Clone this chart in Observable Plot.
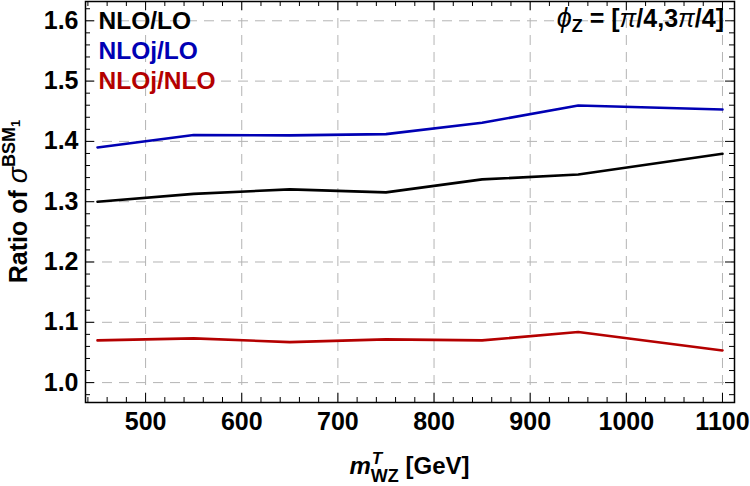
<!DOCTYPE html>
<html>
<head>
<meta charset="utf-8">
<script src="https://cdn.jsdelivr.net/npm/d3@7"></script>
<script src="https://cdn.jsdelivr.net/npm/@observablehq/plot@0.6"></script>
<style>
  html, body { margin: 0; padding: 0; background: #fff; }
  #chart svg { display: block; }
</style>
</head>
<body>
<div id="chart"></div>
<script>
// Transverse mass bins of the WZ system (GeV)
const mass = [450, 550, 650, 750, 850, 950, 1100];

// Cross-section ratios for the BSM_1 operator, phi_Z in [pi/4, 3pi/4]
const nloOverLo   = [1.300, 1.313, 1.3205, 1.3155, 1.337, 1.345, 1.3795];
const nlojOverLo  = [1.390, 1.4105, 1.410, 1.412, 1.431, 1.4595, 1.4528];
const nlojOverNlo = [1.070, 1.0733, 1.0672, 1.0717, 1.070, 1.0839, 1.0533];

const seriesNames  = ["NLO/LO", "NLOj/LO", "NLOj/NLO"];
const seriesColors = ["#000000", "#0000b4", "#b40000"];

// Axis ticks
const xTicks = [500, 600, 700, 800, 900, 1000, 1100];
const yTicks = [1.0, 1.1, 1.2, 1.3, 1.4, 1.5, 1.6];
const xMinor = d3.range(440, 1101, 20).filter(v => v % 100 !== 0);
const yMinor = d3.range(0.98, 1.625, 0.02).map(v => +v.toFixed(2)).filter(v => Math.round(v * 100) % 10 !== 0);

// Long-format table for the line mark
const seriesValues = [nloOverLo, nlojOverLo, nlojOverNlo];
const rows = seriesNames.flatMap((name, i) =>
  mass.map((m, j) => ({series: name, m, ratio: seriesValues[i][j]}))
);

const W = 750, H = 486;
const mt = 1, mb = 84, ml = 85, mr = 16;
const innerW = W - ml - mr, innerH = H - mt - mb;
const FONT = "'Liberation Sans', Arial, Helvetica, sans-serif";

const grid = {stroke: "#b4b4b4", strokeWidth: 1, strokeDasharray: "10,7"};
const tickStyle = {stroke: "#000", strokeWidth: 1};

const svg = Plot.plot({
  width: W,
  height: H,
  marginTop: mt,
  marginBottom: mb,
  marginLeft: ml,
  marginRight: mr,
  style: {fontFamily: FONT, background: "#fff", color: "#000"},
  x: {domain: [437.5, 1112.5]},
  y: {domain: [0.967, 1.632]},
  color: {domain: seriesNames, range: seriesColors},
  marks: [
    // dashed grid at major ticks
    Plot.ruleX(xTicks, grid),
    Plot.ruleY(yTicks, grid),

    // ratio curves
    Plot.line(rows, {x: "m", y: "ratio", z: "series", stroke: "series", strokeWidth: 2.6, curve: "linear"}),

    // inward frame ticks: bottom & top
    Plot.tickX(xTicks, {...tickStyle, insetTop: innerH - 9}),
    Plot.tickX(xTicks, {...tickStyle, insetBottom: innerH - 9}),
    Plot.tickX(xMinor, {...tickStyle, insetTop: innerH - 5}),
    Plot.tickX(xMinor, {...tickStyle, insetBottom: innerH - 5}),
    // inward frame ticks: left & right
    Plot.tickY(yTicks, {...tickStyle, insetRight: innerW - 9}),
    Plot.tickY(yTicks, {...tickStyle, insetLeft: innerW - 9}),
    Plot.tickY(yMinor, {...tickStyle, insetRight: innerW - 5}),
    Plot.tickY(yMinor, {...tickStyle, insetLeft: innerW - 5}),

    // tick labels
    Plot.axisX(xTicks, {tickSize: 0, tickPadding: 10, fontSize: 25, fontWeight: "bold", label: null, tickFormat: d => String(d)}),
    Plot.axisY(yTicks, {tickSize: 0, tickPadding: 7, fontSize: 25, fontWeight: "bold", label: null, tickFormat: d3.format(".1f")}),

    Plot.frame({stroke: "#000", strokeWidth: 1.5}),

    // series legend, top-left inside the frame
    ...seriesNames.map((name, i) =>
      Plot.text([name], {
        text: d => d,
        fill: d => d,
        frameAnchor: "top-left",
        textAnchor: "start",
        lineAnchor: "bottom",
        dx: 13,
        dy: 27 + 30 * i,
        fontSize: 24.5,
        fontWeight: "bold"
      })
    )
  ]
});

document.getElementById("chart").append(svg);

const s = d3.select(svg);

// y-axis title: Ratio of σ^{BSM_1}
const yTitle = s.append("text")
  .attr("font-family", FONT)
  .attr("font-weight", "bold")
  .attr("font-size", 25)
  .attr("text-anchor", "middle")
  .attr("fill", "#000")
  .attr("transform", `translate(27,${mt + innerH / 2}) rotate(-90)`);
yTitle.append("tspan").text("Ratio of ");
yTitle.append("tspan").attr("font-style", "italic").attr("font-weight", "normal").attr("font-size", 27).text("σ");
yTitle.append("tspan").attr("font-size", 18).attr("dy", -12).text("BSM");
yTitle.append("tspan").attr("font-size", 13).attr("dy", 5).text("1");

// x-axis title: m^T_{WZ} [GeV]
const xTitle = s.append("text")
  .attr("font-family", FONT)
  .attr("font-weight", "bold")
  .attr("font-size", 24)
  .attr("text-anchor", "start")
  .attr("fill", "#000")
  .attr("y", 474);
xTitle.append("tspan").attr("font-style", "italic").text("m");
const sub = xTitle.append("tspan").attr("font-size", 18).attr("dy", 8).text("WZ");
const subW = sub.node().getComputedTextLength();
const sup = xTitle.append("tspan").attr("font-size", 17).attr("font-style", "italic").attr("dx", -subW + 1).attr("dy", -18).text("T");
const supW = sup.node().getComputedTextLength();
xTitle.append("tspan").attr("dx", subW - supW - 1).attr("dy", 10).text(" [GeV]");
{
  const bb = xTitle.node().getBBox();
  xTitle.attr("x", ml + innerW / 2 - bb.width / 2);
}

// region label, top-right inside the frame
const phi = s.append("text")
  .attr("font-family", FONT)
  .attr("font-weight", "bold")
  .attr("font-size", 25)
  .attr("text-anchor", "start")
  .attr("fill", "#000")
  .attr("y", 27);
phi.append("tspan").attr("font-style", "italic").attr("font-weight", "normal").attr("font-size", 27).text("ϕ");
phi.append("tspan").attr("font-size", 18).attr("dy", 5).text("Z");
phi.append("tspan").attr("dy", -5).text(" = [");
phi.append("tspan").attr("font-style", "italic").attr("font-weight", "normal").text("π");
phi.append("tspan").text("/4,3");
phi.append("tspan").attr("font-style", "italic").attr("font-weight", "normal").text("π");
phi.append("tspan").text("/4]");
{
  const bb = phi.node().getBBox();
  phi.attr("x", 724 - bb.width);
}
</script>
</body>
</html>
